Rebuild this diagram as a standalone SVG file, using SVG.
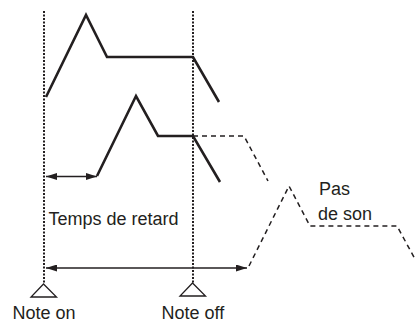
<svg xmlns="http://www.w3.org/2000/svg" width="415" height="322" viewBox="0 0 415 322">
<defs>
<style>
.env{fill:none;stroke:#231f20;stroke-width:2.6;stroke-linejoin:miter;stroke-linecap:butt}
.dash{fill:none;stroke:#231f20;stroke-width:1.5;stroke-dasharray:5 4}
.dot{fill:none;stroke:#231f20;stroke-width:2;stroke-dasharray:2 1.5}
.arr{fill:none;stroke:#231f20;stroke-width:1.3}
.tri{fill:#fff;stroke:#231f20;stroke-width:1.3}
text{font-family:"Liberation Sans",Arial,sans-serif;font-size:18px;fill:#231f20}
</style>
<marker id="ah" viewBox="0 0 11 7" refX="11" refY="3.5" markerWidth="11" markerHeight="7" markerUnits="userSpaceOnUse" orient="auto-start-reverse">
<path d="M0,0 L11,3.5 L0,7 z" fill="#231f20"/>
</marker>
</defs>
<rect width="415" height="322" fill="#fff"/>
<g id="connectors">
<line class="dot" x1="44" y1="11" x2="44" y2="284"/>
<line class="dot" x1="193" y1="11" x2="193" y2="283"/>
<line class="arr" x1="46" y1="176.5" x2="97" y2="176.5" marker-start="url(#ah)" marker-end="url(#ah)"/>
<line class="arr" x1="46" y1="268" x2="247" y2="268" marker-start="url(#ah)" marker-end="url(#ah)"/>
</g>
<g id="envelope-1">
<polyline class="env" points="46,97 86,15 107,57 193,57 219,102"/>
</g>
<g id="envelope-2">
<polyline class="env" points="97,176 136,96 158,136 193,136 220,182"/>
</g>
<g id="release-dashed">
<polyline class="dash" points="193,136 244,136 268,181"/>
</g>
<g id="envelope-3-dashed">
<polyline class="dash" points="249,266 289,186 310,226 397,226 415,259"/>
</g>
<g id="note-on">
<polygon class="tri" points="43.5,284 31,297 56.5,297"/>
<text x="12.5" y="319">Note on</text>
</g>
<g id="note-off">
<polygon class="tri" points="192.5,283 180,296 205.5,296"/>
<text x="161.5" y="319">Note off</text>
</g>
<g id="label-delay">
<text x="48.5" y="225">Temps de retard</text>
</g>
<g id="label-no-sound">
<text x="319" y="195">Pas</text>
<text x="318" y="220">de son</text>
</g>
</svg>
